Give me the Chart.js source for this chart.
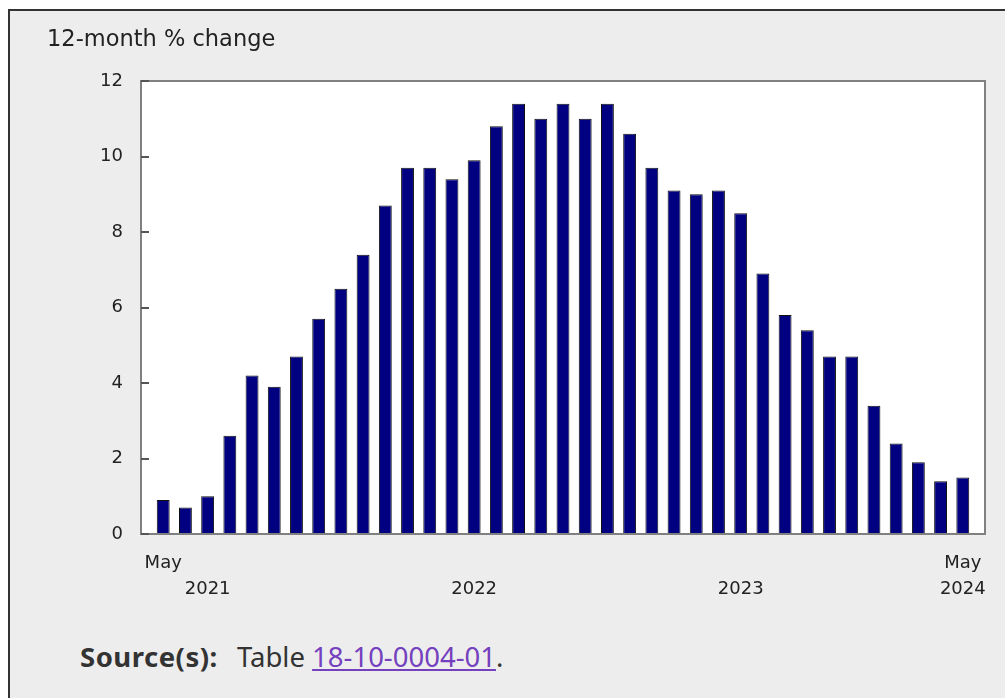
<!DOCTYPE html>
<html>
<head>
<meta charset="utf-8">
<script src="https://cdn.jsdelivr.net/npm/chart.js@4/dist/chart.umd.min.js"></script>
<style>
	body { margin: 0; background: #fff; width: 1005px; height: 698px; overflow: hidden; position: relative; }
	.frame { position: absolute; left: 8px; top: 9px; width: 1100px; height: 800px; border: 2px solid #333; background: #ededed; }
	.chart-box { position: absolute; left: 0; top: 0; width: 1005px; height: 620px; }
	.source { position: absolute; left: 80px; top: 638px; font-family: 'Noto Sans', sans-serif; font-size: 27.5px; color: #333; white-space: nowrap; }
	.source b { margin-right: 12px; letter-spacing: 0.5px; }
	.source a { color: #7440be; text-decoration: underline; }
</style>
</head>
<body>
<div class="frame"></div>
<div class="chart-box"><canvas id="cpi" width="1005" height="620"></canvas></div>
<div class="source"><b>Source(s):</b> Table <a href="#">18-10-0004-01</a>.</div>
<script>
const months = [
	'2021-05', '2021-06', '2021-07', '2021-08', '2021-09', '2021-10', '2021-11', '2021-12',
	'2022-01', '2022-02', '2022-03', '2022-04', '2022-05', '2022-06', '2022-07', '2022-08',
	'2022-09', '2022-10', '2022-11', '2022-12', '2023-01', '2023-02', '2023-03', '2023-04',
	'2023-05', '2023-06', '2023-07', '2023-08', '2023-09', '2023-10', '2023-11', '2023-12',
	'2024-01', '2024-02', '2024-03', '2024-04', '2024-05'
];
const change = [
	0.9, 0.7, 1.0, 2.6, 4.2, 3.9, 4.7, 5.7,
	6.5, 7.4, 8.7, 9.7, 9.7, 9.4, 9.9, 10.8,
	11.4, 11.0, 11.4, 11.0, 11.4, 10.6, 9.7, 9.1,
	9.0, 9.1, 8.5, 6.9, 5.8, 5.4, 4.7, 4.7,
	3.4, 2.4, 1.9, 1.4, 1.5
];
const monthTicks = { '2021-05': 'May', '2024-05': 'May' };
const yearTicks = { '2021-07': '2021', '2022-07': '2022', '2023-07': '2023', '2024-05': '2024' };
const yTicks = [0, 2, 4, 6, 8, 10, 12];

// one empty slot each side, the axis leaves a full step before the first bar
const labels = [''].concat(months, ['']);
const values = [null].concat(change, [null]);

const plotFrame = {
	id: 'plotFrame',
	beforeDatasetsDraw(chart) {
		const a = chart.chartArea;
		const ctx = chart.ctx;
		ctx.save();
		ctx.fillStyle = '#fff';
		ctx.fillRect(a.left, a.top, a.right - a.left, a.bottom - a.top);
		ctx.restore();
	},
	afterDatasetsDraw(chart) {
		const a = chart.chartArea;
		const ctx = chart.ctx;
		const y = chart.scales.y;
		ctx.save();
		ctx.strokeStyle = '#808080';
		ctx.lineWidth = 2;
		ctx.strokeRect(a.left, a.top, a.right - a.left, a.bottom - a.top);
		ctx.strokeStyle = '#555';
		ctx.beginPath();
		yTicks.forEach(function (t) {
			const py = Math.round(y.getPixelForValue(t));
			ctx.moveTo(a.left, py);
			ctx.lineTo(a.left + 8, py);
		});
		ctx.stroke();
		ctx.restore();
	}
};

new Chart(document.getElementById('cpi'), {
	type: 'bar',
	data: {
		labels: labels,
		datasets: [
			{
				data: values,
				backgroundColor: '#000080',
				borderColor: '#111',
				borderWidth: 1,
				borderSkipped: false,
				categoryPercentage: 1,
				barPercentage: 0.58,
			},
		],
	},
	options: {
		responsive: false,
		animation: false,
		layout: {
			padding: { left: 47, right: 20, top: 0, bottom: 0 },
		},
		scales: {
			x: {
				offset: false,
				grid: { display: false },
				border: { display: false },
				ticks: {
					autoSkip: false,
					maxRotation: 0,
					padding: 8,
					color: '#222',
					font: { family: 'DejaVu Sans', size: 18, lineHeight: '26px' },
					callback: function (val) {
						const m = this.getLabelForValue(val);
						if (!monthTicks[m] && !yearTicks[m]) {
							return '';
						}
						return [monthTicks[m] || '', yearTicks[m] || ''];
					},
				},
				afterFit: function (scale) {
					scale.height = 86;
				},
			},
			y: {
				min: 0,
				max: 12,
				grid: { display: false },
				border: { display: false },
				ticks: {
					stepSize: 2,
					padding: 10,
					color: '#222',
					font: { family: 'DejaVu Sans', size: 18 },
				},
				afterFit: function (scale) {
					scale.width = 94;
				},
			},
		},
		plugins: {
			legend: { display: false },
			tooltip: { enabled: false },
			title: {
				display: true,
				text: '12-month % change',
				align: 'start',
				color: '#222',
				font: { family: 'DejaVu Sans', size: 22.5, weight: 'normal', lineHeight: 1.2 },
				padding: { top: 27, bottom: 27 },
			},
		},
	},
	plugins: [plotFrame],
});
</script>
</body>
</html>
